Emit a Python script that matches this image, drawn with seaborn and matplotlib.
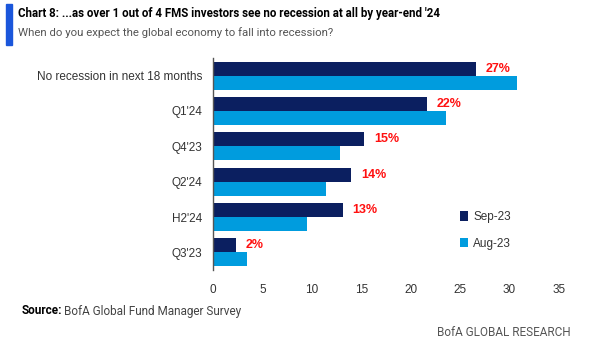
import seaborn as sns
import matplotlib.pyplot as plt
import pandas as pd

categories = ["No recession in next 18 months", "Q1'24", "Q4'23", "Q2'24", "H2'24", "Q3'23"]
sep_23 = [26.6, 21.6, 15.3, 14.0, 13.1, 2.3]
aug_23 = [30.7, 23.6, 12.8, 11.4, 9.5, 3.4]
sep_labels = ["27%", "22%", "15%", "14%", "13%", "2%"]
x_ticks = [0, 5, 10, 15, 20, 25, 30, 35]

df = pd.DataFrame({"category": categories, "Sep-23": sep_23, "Aug-23": aug_23})
long_df = df.melt(id_vars="category", var_name="month", value_name="share")

sns.set_style("white")
plt.rcParams["font.family"] = ["Liberation Sans", "DejaVu Sans"]

NAVY = "#0b1f60"
LIGHT = "#009cde"
NARROW = ["Roboto", "DejaVu Sans"]

fig = plt.figure(figsize=(6, 3.58), dpi=100)
ax = fig.add_axes([0.355, 0.2458, 0.5767, 0.5922])

sns.barplot(
    data=long_df, y="category", x="share", hue="month",
    hue_order=["Sep-23", "Aug-23"], order=categories,
    palette=[NAVY, LIGHT], saturation=1, width=0.8, linewidth=0,
    orient="h", ax=ax,
)

ax.bar_label(ax.containers[0], labels=sep_labels, padding=7,
             color="#ff1010", fontweight="bold", fontsize=9)

ax.set_xlim(0, 35)
ax.set_xticks(x_ticks)
ax.set_xlabel("")
ax.set_ylabel("")
ax.tick_params(axis="both", length=0, labelsize=8.5, colors="#333333")
ax.tick_params(axis="y", pad=8)
ax.tick_params(axis="x", pad=10)
for side in ["top", "right", "bottom"]:
    ax.spines[side].set_visible(False)
ax.spines["left"].set_color("#555555")
ax.spines["left"].set_linewidth(1)

leg = ax.legend(loc="lower left", bbox_to_anchor=(0.714, 0.095), frameon=False,
                fontsize=8.5, handlelength=0.7, handleheight=0.8,
                handletextpad=0.4, labelspacing=1.25,
                borderpad=0, borderaxespad=0)
for t in leg.get_texts():
    t.set_color("#333333")

# header
fig.patches.append(plt.Rectangle((6 / 600, 1 - 45 / 358), 6 / 600, 41 / 358,
                                 transform=fig.transFigure, color="#1a56db"))
fig.text(18 / 600, 1 - 13 / 358,
         "Chart 8: ...as over 1 out of 4 FMS investors see no recession at all by year-end '24",
         family=NARROW, fontweight="bold", fontsize=8.3, color="black", va="center")
fig.text(18 / 600, 1 - 33 / 358,
         "When do you expect the global economy to fall into recession?",
         family=NARROW, fontsize=8.2, color="#555555", va="center")

# footer
src = fig.text(22 / 600, 1 - 311 / 358, "Source:", family=NARROW,
               fontweight="bold", fontsize=8.5, color="black", va="center")
fig.canvas.draw()
bb = src.get_window_extent()
fig.text((bb.x1 + 2) / 600, 1 - 311 / 358, "BofA Global Fund Manager Survey",
         family=NARROW, fontsize=8.5, color="#444444", va="center")
fig.text(571 / 600, 1 - 332 / 358, "BofA GLOBAL RESEARCH", family=NARROW,
         fontsize=8.5, color="#555555", va="center", ha="right")

fig.savefig("out.png", dpi=100)
